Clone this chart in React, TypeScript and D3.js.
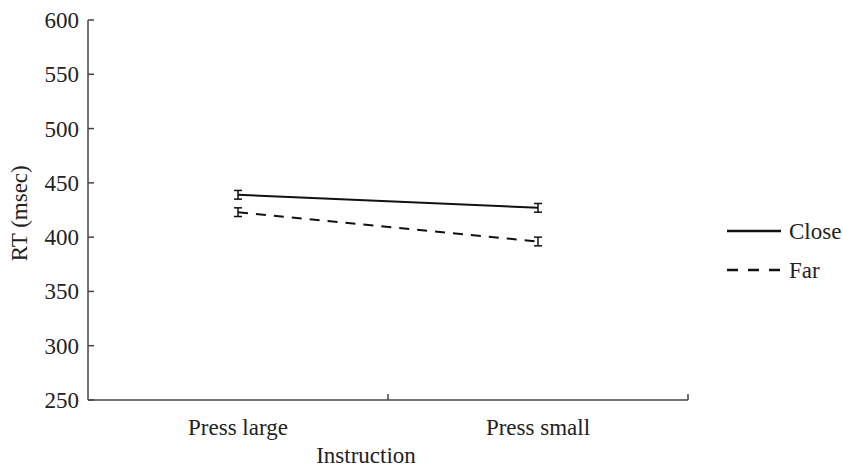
import React from 'react';
import * as d3 from 'd3';

const categories = ['Press large', 'Press small'];
const closeValues = [439, 427];
const farValues = [423, 396];
const closeErr = [4, 4];
const farErr = [4, 4];
const yTicks = [250, 300, 350, 400, 450, 500, 550, 600];

const series = [
  { name: 'Close', values: closeValues, err: closeErr, dash: 'none' },
  { name: 'Far', values: farValues, err: farErr, dash: '10,8' },
];

export default function App() {
  const W = 843;
  const H = 469;
  const margin = { top: 20, left: 88, right: 155, bottom: 69 };
  const plotW = W - margin.left - margin.right;
  const plotH = H - margin.top - margin.bottom;

  const x = d3.scaleBand<string>().domain(categories).range([0, plotW]);
  const y = d3.scaleLinear().domain([250, 600]).range([plotH, 0]);
  const line = d3.line<number>()
    .x((_, i) => x(categories[i])! + x.bandwidth() / 2)
    .y(d => y(d));

  const font = '"Liberation Serif", "Times New Roman", serif';
  const axisColor = '#444';
  const fs = 23;

  return (
    <svg width={W} height={H} style={{ position: 'absolute', left: 0, top: 0 }} fontFamily={font}>
      <g transform={`translate(${margin.left},${margin.top})`}>
        {/* y axis */}
        <line x1={0} x2={0} y1={0} y2={plotH} stroke={axisColor} strokeWidth={1.5} />
        {yTicks.map(t => (
          <g key={t} transform={`translate(0,${y(t)})`}>
            <line x1={0} x2={6} stroke={axisColor} strokeWidth={1.5} />
            <text x={-9} dy="0.35em" textAnchor="end" fontSize={fs} fill="#222">{t}</text>
          </g>
        ))}
        {/* x axis */}
        <line x1={0} x2={plotW} y1={plotH} y2={plotH} stroke={axisColor} strokeWidth={1.5} />
        {[1, 2].map(i => (
          <line key={i} x1={x.step() * i} x2={x.step() * i} y1={plotH} y2={plotH - 6}
            stroke={axisColor} strokeWidth={1.5} />
        ))}
        {categories.map(c => (
          <text key={c} x={x(c)! + x.bandwidth() / 2} y={plotH + 35} textAnchor="middle" fontSize={fs} fill="#222">{c}</text>
        ))}
        <text x={plotW / 2 - 22} y={plotH + 63} textAnchor="middle" fontSize={fs} fill="#222">Instruction</text>
        <text transform={`translate(${-61},${y(422)}) rotate(-90)`} textAnchor="middle" fontSize={fs} fill="#222">RT (msec)</text>

        {/* series */}
        {series.map(s => (
          <g key={s.name}>
            <path d={line(s.values)!} fill="none" stroke="#111" strokeWidth={2} strokeDasharray={s.dash} />
            {s.values.map((v, i) => {
              const cx = x(categories[i])! + x.bandwidth() / 2;
              return (
                <g key={i} stroke="#111" strokeWidth={1.5}>
                  <line x1={cx} x2={cx} y1={y(v - s.err[i])} y2={y(v + s.err[i])} />
                  <line x1={cx - 4} x2={cx + 4} y1={y(v - s.err[i])} y2={y(v - s.err[i])} />
                  <line x1={cx - 4} x2={cx + 4} y1={y(v + s.err[i])} y2={y(v + s.err[i])} />
                </g>
              );
            })}
          </g>
        ))}
      </g>

      {/* legend */}
      {series.map((s, i) => (
        <g key={s.name} transform={`translate(727,${231 + i * 39})`}>
          <line x1={0} x2={54} y1={0} y2={0} stroke="#111" strokeWidth={2.5} strokeDasharray={s.dash === 'none' ? 'none' : '11,10'} />
          <text x={62} dy="0.35em" fontSize={fs} fill="#222">{s.name}</text>
        </g>
      ))}
    </svg>
  );
}
